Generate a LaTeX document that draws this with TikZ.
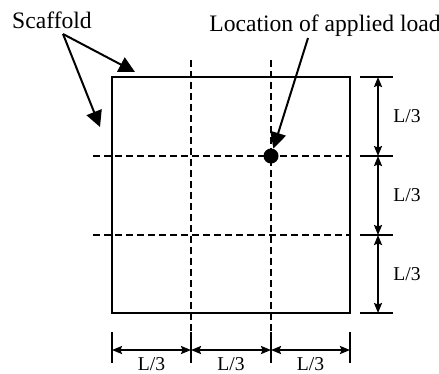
\documentclass[tikz,border=0pt]{standalone}
\usepackage{fontspec}
\setmainfont{Liberation Serif}
\usetikzlibrary{arrows.meta,positioning}

\begin{document}
\begin{tikzpicture}[x=0.5bp, y=-0.5bp,
  every node/.style={font=\fontsize{9.8bp}{12bp}\selectfont, inner sep=0pt},
  bigtext/.style={font=\fontsize{11.8bp}{14bp}\selectfont},
  gridline/.style={line width=0.75bp, dash pattern=on 3.5bp off 2bp},
  extline/.style={line width=0.8bp},
  dimarrow/.style={line width=1bp, {Stealth[length=5bp,width=4bp,inset=0.8bp]}-{Stealth[length=5bp,width=4bp,inset=0.8bp]}},
  pointer/.style={line width=1bp, -{Triangle[length=8bp,width=8bp]}}]
  \useasboundingbox (0,0) rectangle (439,373);
  % dashed third lines
  \foreach \x in {191,271} {
    \draw[gridline] (\x,60) -- (\x,332);
  }
  \foreach \y in {156,235} {
    \draw[gridline] (93,\y) -- (350,\y);
  }
  % scaffold outline
  \coordinate (nw) at (112,77);
  \coordinate (se) at (350,313);
  \draw[line width=1.3bp] (nw) rectangle (se);
  % right dimensions
  \foreach \y in {77,156,235,313} {
    \draw[extline] (360,\y) -- (393,\y);
  }
  \foreach \a/\b in {77/156,156/235,235/313} {
    \draw[dimarrow] (378,\a) -- (378,\b);
    \node at (407,{(\a+\b)/2}) {L/3};
  }
  % bottom dimensions
  \foreach \x in {112,191,271,350} {
    \draw[extline] (\x,332) -- (\x,363);
  }
  \foreach \a/\b in {112/191,191/271,271/350} {
    \draw[dimarrow] (\a,350) -- (\b,350);
    \node[anchor=base] at ({(\a+\b)/2},370) {L/3};
  }
  % labels and pointers
  \node[circle, fill, minimum size=7.5bp] (load) at (271,156) {};
  \node[bigtext] (scaffold) at (52,20) {Scaffold};
  \node[bigtext] (loadtext) at (325,26) {Location of applied load};
  \coordinate (fork) at (63,34);
  \coordinate (topedge) at (135,72);
  \coordinate (leftedge) at (100,127);
  \coordinate (loadtail) at (308,38);
  \draw[pointer] (fork) -- (topedge);
  \draw[pointer] (fork) -- (leftedge);
  \draw[pointer] (loadtail) -- (load);
\end{tikzpicture}
\end{document}
